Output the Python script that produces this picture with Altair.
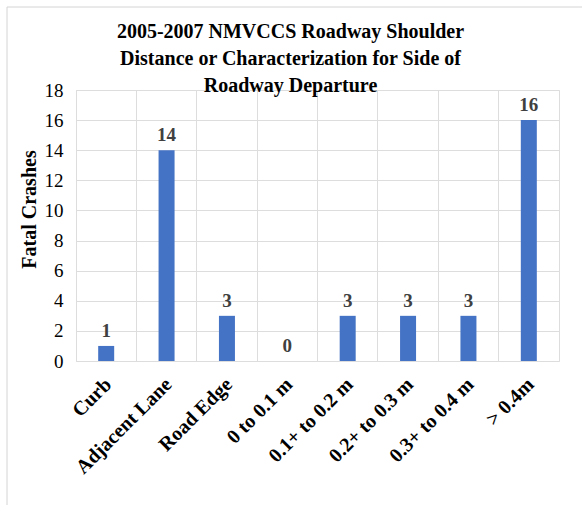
import altair as alt
import pandas as pd

categories = ["Curb", "Adjacent Lane", "Road Edge", "0 to 0.1 m", "0.1+ to 0.2 m",
              "0.2+ to 0.3 m", "0.3+ to 0.4 m", "> 0.4m"]
fatal_crashes = [1, 14, 3, 0, 3, 3, 3, 16]
y_ticks = [0, 2, 4, 6, 8, 10, 12, 14, 16, 18]

df = pd.DataFrame({"category": categories, "value": fatal_crashes})

FONT = "Liberation Serif"
W, H = 483, 271

x_enc = alt.X("category:N", sort=categories, title=None,
              scale=alt.Scale(paddingInner=0, paddingOuter=0),
              axis=alt.Axis(labelAngle=-45, labelFont=FONT, labelFontSize=20,
                            labelFontWeight="bold", labelColor="#000000",
                            domain=False, ticks=False, labelPadding=13,
                            labelOffset=-5,
                            grid=True, bandPosition=0, gridColor="#dddddd",
                            labelLimit=300, labelOverlap=False))
y_enc = alt.Y("value:Q", title="Fatal Crashes",
              scale=alt.Scale(domain=[0, 18], nice=False),
              axis=alt.Axis(values=y_ticks, labelFont=FONT, labelFontSize=19,
                            labelColor="#000000", domain=False, ticks=False,
                            labelOverlap=False,
                            labelPadding=13, gridColor="#dddddd",
                            titleFont=FONT, titleFontSize=20, titleFontWeight="bold",
                            titleColor="#000000", titlePadding=5, titleY=119))

base = alt.Chart(df).encode(x=x_enc, y=y_enc)
bars = base.mark_bar(color="#4472C4", size=16)
labels = base.mark_text(font=FONT, fontSize=19, fontWeight="bold",
                        color="#404040", dy=-9, baseline="alphabetic").encode(text="value:Q")

frame = pd.DataFrame({"k": [0]})
border_top = alt.Chart(frame).mark_rule(color="#d4d4d4", strokeWidth=1).encode(
    x=alt.value(-69), x2=alt.value(506), y=alt.value(-83))
border_left = alt.Chart(frame).mark_rule(color="#d4d4d4", strokeWidth=1).encode(
    x=alt.value(-69), y=alt.value(-83), y2=alt.value(415))

chart = alt.layer(bars, labels, border_top, border_left).properties(
    width=W, height=H,
    title=alt.Title(["2005-2007 NMVCCS Roadway Shoulder",
                     "Distance or Characterization for Side of",
                     "Roadway Departure"],
                    font=FONT, fontSize=20, fontWeight="bold", color="#000000",
                    lineHeight=27, anchor="middle", dx=-27, dy=82, offset=-7),
    autosize=alt.AutoSizeParams(type="none"),
    padding={"left": 76, "top": 90, "right": 23, "bottom": 144},
).configure_view(fill="#f1f1f1", stroke=None).configure(background="white")

chart.save("out.html", embed_options={"renderer": "svg", "actions": False})
